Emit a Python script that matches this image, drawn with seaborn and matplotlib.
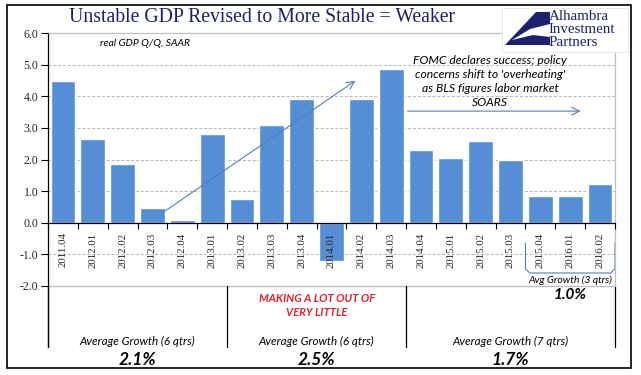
import matplotlib
matplotlib.use("Agg")
import matplotlib.pyplot as plt
import matplotlib.transforms as mtransforms
from matplotlib.patches import Rectangle, Polygon
import seaborn as sns
import pandas as pd

# ---------------- data ----------------
quarters = ["2011.04", "2012.01", "2012.02", "2012.03", "2012.04", "2013.01",
            "2013.02", "2013.03", "2013.04", "2014.01", "2014.02", "2014.03",
            "2014.04", "2015.01", "2015.02", "2015.03", "2015.04", "2016.01",
            "2016.02"]
growth = [4.48, 2.64, 1.86, 0.48, 0.10, 2.80, 0.76, 3.10, 3.90, -1.20,
          3.90, 4.87, 2.30, 2.04, 2.58, 1.98, 0.86, 0.84, 1.21]
yticks = [-2, -1, 0, 1, 2, 3, 4, 5, 6]
gridvals = [-1, 1, 2, 3, 4, 5]
period_bounds = [-0.5, 5.5, 11.5, 18.5]
period_labels = ["Average Growth (6 qtrs)", "Average Growth (6 qtrs)",
                 "Average Growth (7 qtrs)"]
period_avgs = ["2.1%", "2.5%", "1.7%"]
recent_bounds = [15.5, 18.5]
recent_label = "Avg Growth (3 qtrs)"
recent_avg = "1.0%"

W, H = 641, 375
BAR = "#558ed5"
ARROW = "#4f7fc0"
NAVY = "#1b2170"
SANS = ["Lato", "DejaVu Sans"]
SERIF = ["Liberation Serif", "DejaVu Serif"]

sns.set_style("white")
plt.rcParams["font.family"] = SANS

fig = plt.figure(figsize=(W / 100, H / 100), dpi=100)
P = mtransforms.Affine2D().scale(1 / W, -1 / H).translate(0, 1) + fig.transFigure

ax = fig.add_axes([48 / W, 1 - 286 / H, (615 - 48) / W, (286 - 33) / H])
df = pd.DataFrame({"quarter": quarters, "growth": growth})
sns.barplot(data=df, x="quarter", y="growth", color=BAR, saturation=1,
            width=0.83, errorbar=None, ax=ax, zorder=1)
ax.set_axisbelow(False)
ax.set_xlim(-0.5, len(quarters) - 0.5)
ax.set_ylim(-2, 6)
ax.set_xlabel("")
ax.set_ylabel("")

# spines first (set_position resets ticks)
ax.spines["bottom"].set_position(("data", 0))
ax.spines["bottom"].set_color("black")
ax.spines["bottom"].set_linewidth(0.9)
ax.spines["left"].set_color("black")
ax.spines["left"].set_linewidth(0.9)
for s in ["top", "right"]:
    ax.spines[s].set_visible(True)
    ax.spines[s].set_color("#c0c0c0")
    ax.spines[s].set_linewidth(0.9)

# y axis
ax.set_yticks(yticks)
ax.set_yticklabels([f"{v:.1f}" for v in yticks])
ax.tick_params(axis="y", length=5, width=0.8, direction="out", pad=2,
               left=True, color="black", labelsize=8.5,
               labelfontfamily="Liberation Serif")

# x axis: labels at centres, ticks at boundaries
ax.set_xticks([i - 0.5 for i in range(len(quarters) + 1)], minor=True)
ax.tick_params(axis="x", which="minor", length=4, width=0.8,
               direction="out", color="black", bottom=True)
ax.set_xticks(range(len(quarters)))
ax.set_xticklabels(quarters)
ax.tick_params(axis="x", which="major", length=0, pad=7, labelrotation=90,
               labelsize=7.8, labelfontfamily="Liberation Serif")
for lab in ax.get_xticklabels():
    lab.set_verticalalignment("top")
    lab.set_horizontalalignment("center")

for v in gridvals:
    ax.axhline(v, color="#b5b5b5", lw=0.7, ls=(0, (3, 2)), zorder=0)
ax.axhline(-2, color="#c0c0c0", lw=1.0, zorder=0.5, clip_on=False)

blend = mtransforms.blended_transform_factory(ax.transData, P)

# dividers beneath the plot area
for b in period_bounds:
    ax.plot([b, b], [286, 347], transform=blend, color="black", lw=0.9,
            clip_on=False)

# period annotations
for i in range(3):
    cx = (period_bounds[i] + period_bounds[i + 1]) / 2
    ax.text(cx, 341, period_labels[i], transform=blend, ha="center",
            va="center", fontsize=8.4, style="italic", color="black")
    ax.text(cx, 360, period_avgs[i], transform=blend, ha="center",
            va="center", fontsize=12.5, style="italic", weight="bold",
            color="black")

mid = (period_bounds[1] + period_bounds[2]) / 2
ax.text(mid, 298, "MAKING A LOT OUT OF", transform=blend, ha="center",
        va="center", fontsize=8.0, style="italic", weight="bold",
        color="#e8202a")
ax.text(mid, 313, "VERY LITTLE", transform=blend, ha="center", va="center",
        fontsize=8.0, style="italic", weight="bold", color="#e8202a")

# bracket for last 3 quarters
r0, r1 = recent_bounds
ax.plot([r0, r0, r0 + 0.15, r1 - 0.15, r1, r1],
        [243, 269, 273, 273, 269, 243], transform=blend, color=ARROW,
        lw=0.8, clip_on=False)
rc = (r0 + r1) / 2
ax.text(rc, 280, recent_label, transform=blend, ha="center", va="center",
        fontsize=7.5, style="italic", color="black")
ax.text(rc, 295, recent_avg, transform=blend, ha="center", va="center",
        fontsize=11, style="italic", weight="bold", color="black")

# arrows
ax.annotate("", xy=(9.8, 4.49), xytext=(3.39, 0.35),
            arrowprops=dict(arrowstyle="->", color=ARROW, lw=0.8,
                            mutation_scale=14, shrinkA=0, shrinkB=0))
ax.annotate("", xy=(17.35, 3.53), xytext=(11.55, 3.53),
            arrowprops=dict(arrowstyle="->", color=ARROW, lw=0.8,
                            mutation_scale=14, shrinkA=0, shrinkB=0))

# left axis extension
ax.plot([-0.5, -0.5], [286, 347], transform=blend, color="black", lw=0.9,
        clip_on=False)

# text annotations in the plot
fig.text(100 / W, 1 - 44 / H, "real GDP Q/Q, SAAR", ha="left", va="center",
         fontsize=7.5, style="italic", color="black")
fomc = ["FOMC declares success; policy", "concerns shift to 'overheating'",
        "as BLS figures labor market", "SOARS"]
for k, line in enumerate(fomc):
    fig.text(490 / W, 1 - (60 + 14.3 * k) / H, line, ha="center",
             va="center", fontsize=8.7, style="italic", color="black")

# title
fig.text(262 / W, 1 - 18 / H, "Unstable GDP Revised to More Stable = Weaker",
         ha="center", va="center", fontsize=14.2, family=SERIF, color=NAVY)

# logo
fig.add_artist(Rectangle((502, 8), 126, 44, transform=P, facecolor="white",
                         edgecolor="#e4e4e4", lw=0.6))
fig.add_artist(Polygon([(536, 12), (550, 12), (550, 45), (505, 45)],
                       closed=True, transform=P, facecolor=NAVY,
                       edgecolor="none"))
fig.add_artist(Polygon([(550, 24), (530, 29), (512, 40), (533, 35), (550, 37)],
                       closed=True, transform=P, facecolor="white",
                       edgecolor="none"))
for k, word in enumerate(["Alhambra", "Investment", "Partners"]):
    fig.text(549 / W, 1 - (17 + 12.5 * k) / H, word, ha="left", va="center",
             fontsize=10.8, family=SERIF, color=NAVY)

# outer frame
fig.add_artist(Rectangle((7, 5), 624, 363, transform=P, facecolor="none",
                         edgecolor="black", lw=1.2))

fig.savefig("out.png", dpi=100)
